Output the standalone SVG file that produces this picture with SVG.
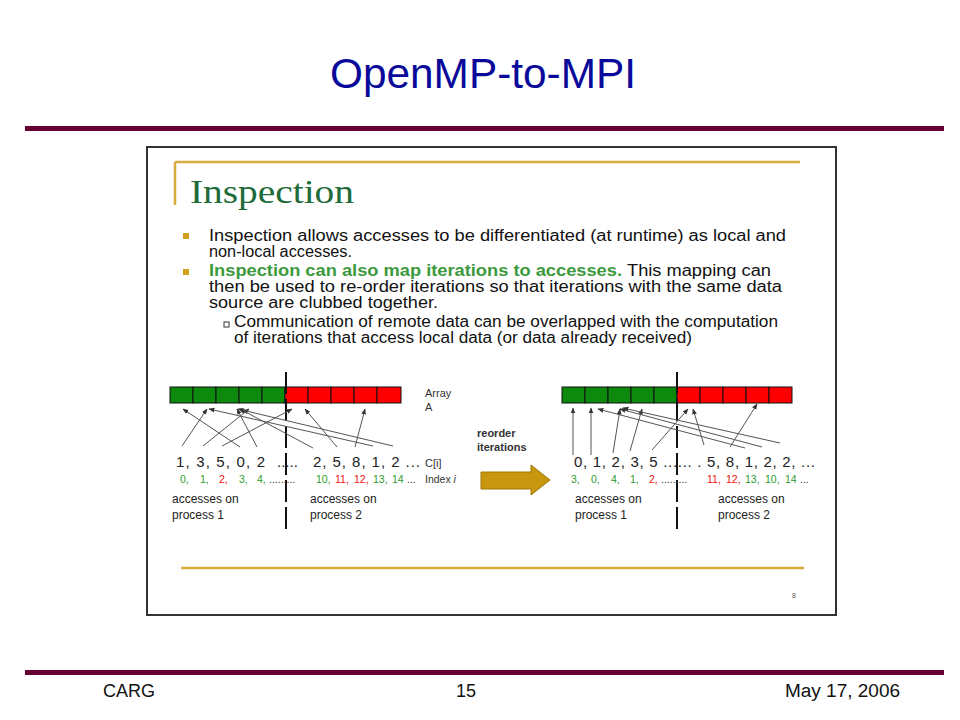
<svg xmlns="http://www.w3.org/2000/svg" width="960" height="720" viewBox="0 0 960 720">
<defs>
<marker id="ah" viewBox="0 0 10 10" refX="9" refY="5" markerWidth="6" markerHeight="6" orient="auto" markerUnits="userSpaceOnUse"><path d="M0,1 L10,5 L0,9 z" fill="#333"/></marker>
<style>
.bar{fill:#660033}
.sans{font-family:"Liberation Sans",Arial,sans-serif}
.body{font-family:"Liberation Sans",Arial,sans-serif;font-size:16px;fill:#111}
.g{fill:#0d8a0d;stroke:#111;stroke-width:1}
.r{fill:#ff0000;stroke:#111;stroke-width:1}
.ln{stroke:#555;stroke-width:1;fill:none;marker-end:url(#ah)}
.dash{stroke:#111;stroke-width:2;stroke-dasharray:22 5}
.gold{stroke:#d8ac3c;stroke-width:2.5}
.num{font-family:"Liberation Sans",Arial,sans-serif;font-size:15px;fill:#222}
.idx{font-family:"Liberation Sans",Arial,sans-serif;font-size:10.5px}
.gr{fill:#2e9a2e}
.rd{fill:#ee1111}
.lab{font-family:"Liberation Sans",Arial,sans-serif;font-size:12px;fill:#222}
.small{font-family:"Liberation Sans",Arial,sans-serif;font-size:11px;fill:#333}
</style>
</defs>
<rect width="960" height="720" fill="#fff"/>
<g id="title"><text x="483" y="88" text-anchor="middle" class="sans" font-size="42" fill="#0a0a9a" textLength="306" lengthAdjust="spacingAndGlyphs">OpenMP-to-MPI</text></g>
<rect class="bar" x="25" y="126" width="919" height="5"/>
<rect class="bar" x="25" y="670" width="919" height="5"/>
<g id="footer" class="sans" font-size="18" fill="#111">
<text x="103" y="697">CARG</text>
<text x="466" y="697" text-anchor="middle">15</text>
<text x="900" y="697" text-anchor="end" textLength="115" lengthAdjust="spacingAndGlyphs">May 17, 2006</text>
</g>
<g id="slide">
<rect x="147" y="147" width="689" height="468" fill="#fff" stroke="#333" stroke-width="2"/>
<line class="gold" x1="175" y1="162" x2="800" y2="162"/>
<line class="gold" x1="175" y1="162" x2="175" y2="205"/>
<line class="gold" x1="181" y1="568" x2="804" y2="568"/>
<text x="190" y="203" font-family="'Liberation Serif','Times New Roman',serif" font-size="34" fill="#1f6b3a" textLength="164" lengthAdjust="spacingAndGlyphs">Inspection</text>
<text x="792" y="598" class="sans" font-size="7" fill="#555">8</text>
<rect x="183" y="233" width="6" height="6" fill="#d4a020"/>
<rect x="183" y="269" width="6" height="6" fill="#d4a020"/>
<rect x="224" y="322" width="5" height="5" fill="none" stroke="#333" stroke-width="1"/>
<text class="body" x="209" y="241" textLength="577" lengthAdjust="spacingAndGlyphs">Inspection allows accesses to be differentiated (at runtime) as local and</text>
<text class="body" x="209" y="257" textLength="143" lengthAdjust="spacingAndGlyphs">non-local accesses.</text>
<text class="body" x="209" y="276" font-weight="bold" style="fill:#3c9a3c" textLength="413" lengthAdjust="spacingAndGlyphs">Inspection can also map iterations to accesses.</text>
<text class="body" x="627" y="276" textLength="144" lengthAdjust="spacingAndGlyphs">This mapping can</text>
<text class="body" x="209" y="292" textLength="573" lengthAdjust="spacingAndGlyphs">then be used to re-order iterations so that iterations with the same data</text>
<text class="body" x="209" y="308" textLength="229" lengthAdjust="spacingAndGlyphs">source are clubbed together.</text>
<text class="body" x="234" y="327" font-size="15" textLength="544" lengthAdjust="spacingAndGlyphs">Communication of remote data can be overlapped with the computation</text>
<text class="body" x="234" y="343" font-size="15" textLength="458" lengthAdjust="spacingAndGlyphs">of iterations that access local data (or data already received)</text>
</g>
<g id="arrayLeft">
<rect class="g" x="170" y="387" width="23" height="16"/><rect class="g" x="193" y="387" width="23" height="16"/><rect class="g" x="216" y="387" width="23" height="16"/><rect class="g" x="239" y="387" width="23" height="16"/><rect class="g" x="262" y="387" width="23" height="16"/>
<rect class="r" x="285" y="387" width="23" height="16"/><rect class="r" x="308" y="387" width="23" height="16"/><rect class="r" x="331" y="387" width="23" height="16"/><rect class="r" x="354" y="387" width="23" height="16"/><rect class="r" x="377" y="387" width="24" height="16"/>
<text class="small" x="425" y="397">Array</text>
<text class="small" x="425" y="411">A</text>
</g>
<g id="arrayRight">
<rect class="g" x="562" y="387" width="23" height="16"/><rect class="g" x="585" y="387" width="23" height="16"/><rect class="g" x="608" y="387" width="23" height="16"/><rect class="g" x="631" y="387" width="23" height="16"/><rect class="g" x="654" y="387" width="23" height="16"/>
<rect class="r" x="677" y="387" width="23" height="16"/><rect class="r" x="700" y="387" width="23" height="16"/><rect class="r" x="723" y="387" width="23" height="16"/><rect class="r" x="746" y="387" width="23" height="16"/><rect class="r" x="769" y="387" width="23" height="16"/>
</g>
<g id="dividers">
<line class="dash" x1="286" y1="372" x2="286" y2="533"/>
<line class="dash" x1="677" y1="372" x2="677" y2="533"/>
</g>
<g id="connectors">
<line class="ln" x1="182" y1="446" x2="207" y2="409"/>
<line class="ln" x1="203" y1="446" x2="249" y2="409"/>
<line class="ln" x1="222" y1="446" x2="292" y2="409"/>
<line class="ln" x1="240" y1="447" x2="183" y2="409"/>
<line class="ln" x1="257" y1="447" x2="237" y2="409"/>
<line class="ln" x1="313" y1="448" x2="240" y2="409"/>
<line class="ln" x1="337" y1="447" x2="305" y2="409"/>
<line class="ln" x1="355" y1="447" x2="365" y2="409"/>
<line class="ln" x1="373" y1="446" x2="209" y2="409"/>
<line class="ln" x1="393" y1="446" x2="238" y2="409"/>
<line class="ln" x1="573" y1="455" x2="573" y2="408"/>
<line class="ln" x1="591" y1="455" x2="591" y2="408"/>
<line class="ln" x1="613" y1="453" x2="620" y2="409"/>
<line class="ln" x1="630" y1="451" x2="642" y2="409"/>
<line class="ln" x1="652" y1="450" x2="688" y2="409"/>
<line class="ln" x1="704" y1="445" x2="693" y2="409"/>
<line class="ln" x1="730" y1="447" x2="757" y2="404"/>
<line class="ln" x1="745" y1="448" x2="598" y2="409"/>
<line class="ln" x1="762" y1="447" x2="620" y2="409"/>
<line class="ln" x1="780" y1="443" x2="623" y2="408"/>
</g>
<g id="textLeft">
<text class="num" x="176" y="467" font-size="16" textLength="89" lengthAdjust="spacing">1, 3, 5, 0, 2</text>
<text class="num" x="277" y="467" font-size="12">.....</text>
<text class="num" x="313" y="467" font-size="16" textLength="107" lengthAdjust="spacing">2, 5, 8, 1, 2 ...</text>
<text class="small" x="425" y="467">C[i]</text>
<text class="idx" x="180" y="483"><tspan class="gr">0,</tspan><tspan x="200" class="gr">1,</tspan><tspan x="219" class="rd">2,</tspan><tspan x="239" class="gr">3,</tspan><tspan x="257" class="gr">4,</tspan><tspan x="269" fill="#333">.........</tspan></text>
<text class="idx" x="316" y="483"><tspan class="gr">10,</tspan><tspan x="335" class="rd">11,</tspan><tspan x="354" class="rd">12,</tspan><tspan x="373" class="gr">13,</tspan><tspan x="392" class="gr">14</tspan><tspan x="407" fill="#333">...</tspan></text>
<text class="idx" x="425" y="483" fill="#333">Index <tspan font-style="italic">i</tspan></text>
<text class="lab" x="172" y="503">accesses on</text>
<text class="lab" x="172" y="519">process 1</text>
<text class="lab" x="310" y="503">accesses on</text>
<text class="lab" x="310" y="519">process 2</text>
</g>
<g id="reorder">
<text class="small" x="477" y="437" font-weight="bold" fill="#222">reorder</text>
<text class="small" x="477" y="451" font-weight="bold" fill="#222">iterations</text>
<path d="M481,472 L531,472 L531,465 L550,480 L531,495 L531,489 L481,489 Z" fill="#c8960f" stroke="#a07808" stroke-width="1"/>
</g>
<g id="textRight">
<text class="num" x="574" y="467" font-size="16" textLength="241" lengthAdjust="spacing">0, 1, 2, 3, 5 ...... . 5, 8, 1, 2, 2, ...</text>
<text class="idx" x="571" y="483"><tspan class="gr">3,</tspan><tspan x="591" class="gr">0,</tspan><tspan x="611" class="gr">4,</tspan><tspan x="630" class="gr">1,</tspan><tspan x="649" class="rd">2,</tspan><tspan x="661" fill="#333">.........</tspan><tspan x="707" class="rd">11,</tspan><tspan x="726" class="rd">12,</tspan><tspan x="745" class="gr">13,</tspan><tspan x="765" class="gr">10,</tspan><tspan x="785" class="gr">14</tspan><tspan x="800" fill="#333">...</tspan></text>
<text class="lab" x="575" y="503">accesses on</text>
<text class="lab" x="575" y="519">process 1</text>
<text class="lab" x="718" y="503">accesses on</text>
<text class="lab" x="718" y="519">process 2</text>
</g>
</svg>
